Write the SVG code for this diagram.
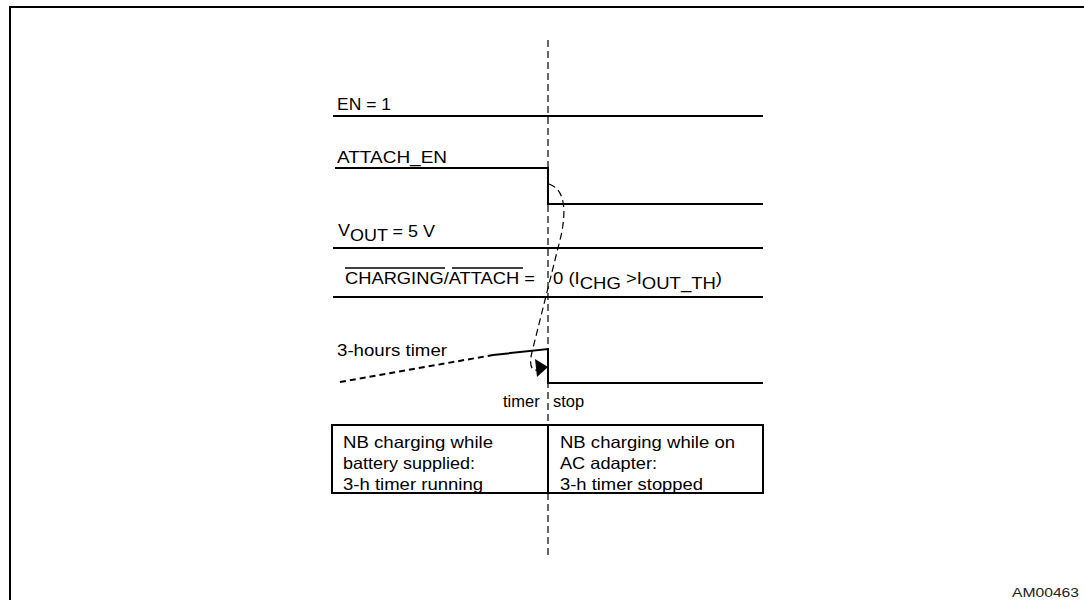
<svg xmlns="http://www.w3.org/2000/svg" width="1084" height="600" viewBox="0 0 1084 600">
<style>
text{font-family:"Liberation Sans",Arial,Helvetica,sans-serif;font-size:16.5px;fill:#000}
.sig{stroke:#000;stroke-width:2;fill:none}
.dash{stroke:#000;stroke-width:1.2;fill:none;stroke-dasharray:7 4}
.ov{stroke:#000;stroke-width:1.3}
</style>
<rect x="0" y="0" width="1084" height="600" fill="#fff"/>
<g id="frame">
<path class="sig" d="M9,7 H1084 M10,6 V600"/>
</g>
<g id="en">
<text x="337" y="110" textLength="54" lengthAdjust="spacingAndGlyphs">EN = 1</text>
<path class="sig" d="M333,116 H763"/>
</g>
<g id="attach_en">
<text x="337" y="163" textLength="110" lengthAdjust="spacingAndGlyphs">ATTACH_EN</text>
<path class="sig" d="M335,168 H548 V204 H763"/>
</g>
<g id="vout">
<text x="338" y="236" textLength="97" lengthAdjust="spacingAndGlyphs">V<tspan dy="5">OUT</tspan><tspan dy="-4"> = 5 V</tspan></text>
<path class="sig" d="M333,248 H763"/>
</g>
<g id="charging">
<text x="345" y="284" textLength="190" lengthAdjust="spacingAndGlyphs">CHARGING/ATTACH =</text>
<line class="ov" x1="345" y1="268" x2="445" y2="268"/>
<line class="ov" x1="452" y1="268" x2="523" y2="268"/>
<text x="553" y="284" textLength="169" lengthAdjust="spacingAndGlyphs">0 (I<tspan dy="5">CHG</tspan><tspan dy="-5"> &gt;I</tspan><tspan dy="5">OUT_TH</tspan><tspan dy="-5">)</tspan></text>
<path class="sig" d="M333,297 H763"/>
</g>
<g id="timer">
<text x="337" y="356" textLength="110" lengthAdjust="spacingAndGlyphs">3-hours timer</text>
<path class="sig" d="M340,382 L493,355" stroke-dasharray="6 4"/>
<path class="sig" d="M493,355 L548,349 V383 H763"/>
<text x="503" y="407">timer <tspan x="553">stop</tspan></text>
</g>
<g id="connectors">
<line class="dash" x1="548" y1="40" x2="548" y2="425"/>
<line class="dash" x1="548" y1="493" x2="548" y2="555"/>
<path class="dash" stroke-dasharray="5 4" d="M549,184 C566,190 566,212 561,236 L532,352 C529,364 531,371 537,370"/>
<polygon points="535,359 548,367 537,377" fill="#000"/>
</g>
<g id="box">
<rect class="sig" x="332" y="425" width="431" height="68"/>
<line class="sig" x1="548" y1="425" x2="548" y2="493"/>
<text x="343" y="448" textLength="150" lengthAdjust="spacingAndGlyphs">NB charging while</text>
<text x="343" y="469" textLength="132" lengthAdjust="spacingAndGlyphs">battery supplied:</text>
<text x="343" y="490" textLength="140" lengthAdjust="spacingAndGlyphs">3-h timer running</text>
<text x="560" y="448" textLength="175" lengthAdjust="spacingAndGlyphs">NB charging while on</text>
<text x="560" y="469" textLength="97" lengthAdjust="spacingAndGlyphs">AC adapter:</text>
<text x="560" y="490" textLength="143" lengthAdjust="spacingAndGlyphs">3-h timer stopped</text>
</g>
<g id="label">
<text x="1012" y="597" style="font-size:13px;fill:#222" textLength="67" lengthAdjust="spacingAndGlyphs">AM00463</text>
</g>
</svg>
